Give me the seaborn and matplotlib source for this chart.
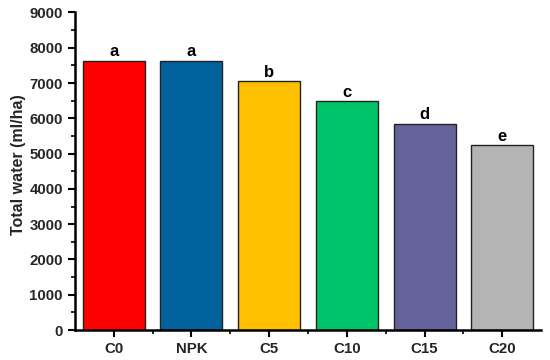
import matplotlib
matplotlib.use("Agg")
import matplotlib.pyplot as plt
import seaborn as sns
import pandas as pd
from matplotlib.ticker import MultipleLocator

categories = ["C0", "NPK", "C5", "C10", "C15", "C20"]
values = [7630, 7630, 7060, 6480, 5850, 5230]
letters = ["a", "a", "b", "c", "d", "e"]
colors = ["#FF0000", "#00619B", "#FFC000", "#00C46A", "#64649B", "#B4B4B4"]

sns.set_theme(style="ticks")
plt.rcParams["font.family"] = ["Liberation Sans", "DejaVu Sans"]
plt.rcParams["font.weight"] = "bold"

df = pd.DataFrame({"cat": categories, "val": values})

fig = plt.figure(figsize=(5.5, 3.6), dpi=100)
ax = fig.add_axes([0.136, 0.0833, 0.848, 0.882])
sns.barplot(data=df, x="cat", y="val", hue="cat", palette=colors, legend=False,
            width=0.8, edgecolor="#222222", linewidth=1.0, ax=ax, saturation=1)

for i, (v, l) in enumerate(zip(values, letters)):
    ax.text(i, v + 40, l, ha="center", va="bottom", fontsize=12, fontweight="bold", color="black")

ax.set_xlim(-0.5, 5.5)
ax.set_ylim(0, 9000)
ax.yaxis.set_major_locator(MultipleLocator(1000))
ax.yaxis.set_minor_locator(MultipleLocator(500))
ax.set_xticks(range(len(categories)))
ax.set_xticklabels(categories)
ax.set_xticks([0.5, 1.5, 2.5, 3.5, 4.5], minor=True)
ax.set_xlabel("")
ax.set_ylabel("Total water (ml/ha)", fontsize=11.5, fontweight="bold")
ax.yaxis.set_label_coords(-0.105, 0.52)
ax.tick_params(axis="both", which="major", labelsize=10.8, width=1.5, length=5, direction="out", color="black")
ax.tick_params(axis="both", which="minor", width=1.2, length=3, direction="out", color="black")
for lab in ax.get_xticklabels() + ax.get_yticklabels():
    lab.set_fontweight("bold")
for s in ["top", "right"]:
    ax.spines[s].set_visible(False)
for s in ["left", "bottom"]:
    ax.spines[s].set_linewidth(1.8)
    ax.spines[s].set_color("black")

fig.savefig("out.png", dpi=100)
